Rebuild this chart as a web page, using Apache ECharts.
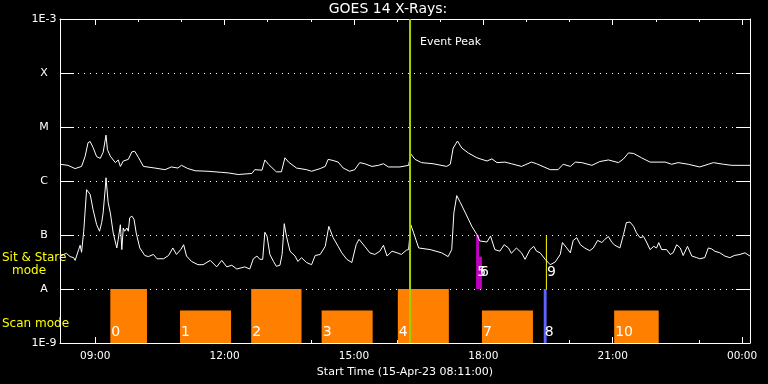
<!DOCTYPE html>
<html><head><meta charset="utf-8">
<script src="https://cdn.jsdelivr.net/npm/echarts@6/dist/echarts.min.js"></script>
<style>html,body{margin:0;padding:0;background:#000}#c{width:768px;height:384px}</style>
</head><body><div id="c"></div>
<script>
// ---- time axis (minutes since 00:00 of 15-Apr-23) ----
const startMinute = 491;   // 08:11
const endMinute = 1451;    // 00:11 next day
const majorTickMinutes = [540, 720, 900, 1080, 1260, 1440];
const majorTickLabels = ['09:00', '12:00', '15:00', '18:00', '21:00', '00:00'];
const hourTickMinutes = [540, 600, 660, 720, 780, 840, 900, 960, 1020, 1080, 1140, 1200, 1260, 1320, 1380, 1440];

// ---- flux axis (log10 of W/m^2) ----
const levelValues = [-9, -8, -7, -6, -5, -4, -3];
const levelLabels = ['1E-9', 'A', 'B', 'C', 'M', 'X', '1E-3'];

// ---- GOES 14 long channel (1-8 A), [minute, log10 flux] ----
const goesLong = [
 [491,-5.69],[502,-5.71],[512,-5.77],[521,-5.73],[526,-5.54],[530,-5.29],[533,-5.27],[537,-5.38],
 [542,-5.55],[547,-5.58],[551,-5.47],[555,-5.15],[557,-5.42],[561,-5.54],[568,-5.66],[572,-5.61],
 [575,-5.73],[579,-5.63],[586,-5.60],[591,-5.46],[595,-5.45],[600,-5.56],[607,-5.73],[623,-5.76],
 [637,-5.79],[646,-5.74],[655,-5.76],[660,-5.71],[669,-5.77],[679,-5.81],[697,-5.82],[716,-5.84],
 [725,-5.85],[739,-5.88],[758,-5.86],[762,-5.79],[772,-5.80],[776,-5.61],[781,-5.69],[792,-5.83],
 [799,-5.83],[804,-5.57],[809,-5.65],[820,-5.76],[834,-5.79],[841,-5.82],[853,-5.77],[860,-5.73],
 [864,-5.60],[871,-5.62],[878,-5.65],[885,-5.76],[894,-5.82],[901,-5.79],[908,-5.66],[915,-5.68],
 [925,-5.73],[934,-5.71],[941,-5.68],[948,-5.74],[964,-5.74],[976,-5.71],[979,-5.50],[985,-5.60],
 [994,-5.66],[1010,-5.68],[1029,-5.73],[1034,-5.69],[1038,-5.39],[1044,-5.26],[1050,-5.39],[1059,-5.48],
 [1071,-5.57],[1085,-5.63],[1092,-5.59],[1099,-5.66],[1110,-5.65],[1119,-5.68],[1133,-5.73],[1147,-5.65],
 [1154,-5.68],[1173,-5.79],[1184,-5.79],[1191,-5.69],[1201,-5.73],[1208,-5.65],[1217,-5.66],[1231,-5.71],
 [1242,-5.64],[1254,-5.61],[1268,-5.66],[1275,-5.59],[1282,-5.48],[1289,-5.49],[1300,-5.57],[1312,-5.65],
 [1333,-5.65],[1342,-5.69],[1351,-5.66],[1365,-5.69],[1381,-5.74],[1393,-5.69],[1400,-5.66],[1414,-5.69],
 [1426,-5.71],[1451,-5.71]
];

// ---- GOES 14 short channel (0.5-4 A), [minute, log10 flux] ----
const goesShort = [
 [491,-7.40],[496,-7.36],[500,-7.34],[505,-7.40],[510,-7.42],[512,-7.47],[517,-7.27],[519,-7.19],
 [521,-7.32],[524,-6.93],[528,-6.16],[533,-6.25],[537,-6.53],[542,-6.81],[546,-6.93],[549,-6.77],
 [551,-6.59],[554,-6.13],[555,-5.94],[558,-6.40],[561,-6.59],[565,-6.96],[570,-7.24],[572,-7.08],
 [575,-6.81],[577,-7.27],[579,-6.87],[581,-6.93],[584,-6.87],[586,-6.93],[588,-6.68],[591,-6.65],
 [594,-6.71],[597,-6.96],[602,-7.24],[609,-7.38],[614,-7.40],[621,-7.36],[626,-7.44],[635,-7.44],
 [642,-7.38],[648,-7.24],[653,-7.36],[659,-7.27],[663,-7.18],[667,-7.39],[674,-7.49],[683,-7.55],
 [690,-7.55],[700,-7.47],[709,-7.59],[716,-7.47],[723,-7.59],[730,-7.56],[737,-7.63],[748,-7.59],
 [755,-7.63],[760,-7.44],[765,-7.39],[769,-7.45],[773,-7.45],[776,-6.95],[779,-7.02],[783,-7.36],
 [788,-7.49],[792,-7.58],[797,-7.56],[800,-7.36],[803,-6.79],[806,-7.02],[811,-7.30],[818,-7.39],
 [822,-7.49],[827,-7.42],[834,-7.51],[841,-7.55],[846,-7.38],[853,-7.36],[860,-7.21],[865,-6.84],
 [871,-7.05],[878,-7.21],[883,-7.33],[890,-7.45],[897,-7.51],[903,-7.18],[907,-7.08],[915,-7.21],
 [922,-7.33],[929,-7.36],[936,-7.30],[941,-7.19],[946,-7.39],[953,-7.30],[960,-7.33],[966,-7.36],
 [973,-7.28],[976,-7.27],[979,-6.81],[983,-6.96],[990,-7.24],[1006,-7.27],[1022,-7.33],[1031,-7.40],
 [1036,-7.27],[1039,-6.59],[1043,-6.27],[1048,-6.40],[1055,-6.59],[1064,-6.84],[1071,-6.99],[1075,-7.11],
 [1085,-7.13],[1090,-7.02],[1096,-7.27],[1103,-7.30],[1109,-7.18],[1115,-7.24],[1119,-7.34],[1126,-7.24],
 [1133,-7.33],[1138,-7.45],[1145,-7.27],[1150,-7.21],[1154,-7.30],[1159,-7.33],[1166,-7.45],[1173,-7.55],
 [1180,-7.50],[1187,-7.36],[1190,-7.14],[1196,-7.24],[1201,-7.33],[1205,-7.10],[1210,-7.05],[1215,-7.18],
 [1221,-7.24],[1228,-7.29],[1233,-7.24],[1239,-7.10],[1245,-7.14],[1249,-7.08],[1254,-7.03],[1259,-7.14],
 [1263,-7.19],[1270,-7.24],[1275,-6.99],[1279,-6.77],[1284,-6.76],[1289,-6.84],[1293,-6.96],[1298,-7.05],
 [1303,-7.03],[1307,-7.13],[1312,-7.27],[1317,-7.21],[1321,-7.24],[1324,-7.14],[1328,-7.27],[1335,-7.27],
 [1340,-7.36],[1344,-7.33],[1349,-7.18],[1354,-7.24],[1358,-7.38],[1364,-7.21],[1370,-7.39],[1377,-7.42],
 [1381,-7.44],[1388,-7.42],[1393,-7.24],[1398,-7.26],[1402,-7.30],[1409,-7.33],[1416,-7.39],[1423,-7.42],
 [1429,-7.38],[1437,-7.36],[1444,-7.33],[1451,-7.39]
];

// ---- event peak ----
const eventPeakMinute = 978;
const eventPeakLabel = 'Event Peak';

// ---- scan mode observations ----
const scanLabels = ['0', '1', '2', '3', '4', '7', '8', '10'];
const scanStart  = [561, 658, 757, 855, 961, 1078, 1164, 1262];
const scanEnd    = [612, 729, 827, 926, 1032, 1149, 1168, 1324];
const scanLevel  = [1, 0.6, 1, 0.6, 1, 0.6, 1, 0.6];

// ---- sit & stare observations ----
const stareLabels = ['5', '6', '9'];
const stareStart  = [1070, 1074, 1167];
const stareEnd    = [1074, 1078, 1168];
const stareLevel  = [1, 0.6, 1];

// ---- styles ----
const FONT = 'DejaVu Sans';
const WHITE = '#ffffff';
const ORANGE = '#ff8000';
const MAGENTA = '#c400c4';
const obsColorOverride = { '8': '#6262ff', '9': '#ffff00' };
const EVENT_COLOR = '#a2d000';
const SCAN_BASE = -9, STARE_BASE = -8;

const chart = echarts.init(document.getElementById('c'), null, { renderer: 'canvas' });

function fmtTick(v) { const i = majorTickMinutes.indexOf(v); return i >= 0 ? majorTickLabels[i] : ''; }
function fmtLevel(v) { const i = levelValues.indexOf(v); return i >= 0 ? levelLabels[i] : ''; }

function xAx(pos, showLine, tickLen, ticks, withLabels) {
  const a = {
    type: 'value', min: startMinute, max: endMinute, position: pos, gridIndex: 0,
    axisLine: { show: showLine, onZero: false, lineStyle: { color: WHITE, width: 1 } },
    axisTick: { show: true, inside: true, length: tickLen, customValues: ticks, lineStyle: { color: WHITE, width: 1 } },
    axisLabel: { show: false },
    splitLine: { show: false }
  };
  if (withLabels) {
    a.axisLabel = { show: true, customValues: majorTickMinutes, formatter: fmtTick, color: WHITE,
      fontFamily: FONT, fontSize: 10.5, margin: 8 };
    a.name = 'Start Time (15-Apr-23 08:11:00)';
    a.nameLocation = 'middle';
    a.nameGap = 20;
    a.nameTextStyle = { color: WHITE, fontFamily: FONT, fontSize: 11 };
  }
  return a;
}

function bandRenderer(starts, ends, levels, labels, base, defColor, labelLift) {
  return function (params, api) {
    const i = params.dataIndex;
    const p0 = api.coord([starts[i], base]);
    const p1 = api.coord([ends[i], base + levels[i]]);
    const w = Math.max(1, p1[0] - p0[0]);
    const color = obsColorOverride[labels[i]] || defColor;
    return {
      type: 'group',
      children: [
        { type: 'rect', shape: { x: p0[0], y: p1[1], width: w, height: p0[1] - p1[1] }, style: { fill: color } },
        { type: 'text', x: p0[0] + 1, y: p0[1] - labelLift, z2: 10,
          style: { text: labels[i], fill: WHITE, fontFamily: FONT, fontSize: 14, align: 'left', verticalAlign: 'middle' } }
      ]
    };
  };
}

const option = {
  backgroundColor: '#000000',
  animation: false,
  grid: { left: 60, right: 18, top: 19, bottom: 41, containLabel: false },
  xAxis: [
    xAx('bottom', true, 6, majorTickMinutes, true),
    xAx('bottom', false, 3, hourTickMinutes, false),
    xAx('top', true, 6, majorTickMinutes, false),
    xAx('top', false, 3, hourTickMinutes, false)
  ],
  yAxis: [
    { type: 'value', min: -9, max: -3, interval: 1, position: 'left',
      axisLine: { show: true, onZero: false, lineStyle: { color: WHITE, width: 1 } },
      axisTick: { show: true, inside: true, length: 14, lineStyle: { color: WHITE, width: 1 } },
      axisLabel: { color: WHITE, fontFamily: FONT, fontSize: 11, align: 'center', margin: 16, formatter: fmtLevel },
      splitLine: { show: true, lineStyle: { color: WHITE, width: 1, type: [1, 5] } } },
    { type: 'value', min: -9, max: -3, interval: 1, position: 'right',
      axisLine: { show: true, onZero: false, lineStyle: { color: WHITE, width: 1 } },
      axisTick: { show: true, inside: true, length: 14, lineStyle: { color: WHITE, width: 1 } },
      axisLabel: { show: false }, splitLine: { show: false } }
  ],
  series: [
    { type: 'custom', name: 'scan', xAxisIndex: 0, yAxisIndex: 0, z: 2, clip: false, silent: true,
      data: scanStart.map((s, i) => [s, scanEnd[i]]),
      renderItem: bandRenderer(scanStart, scanEnd, scanLevel, scanLabels, SCAN_BASE, ORANGE, 10.5) },
    { type: 'custom', name: 'stare', xAxisIndex: 0, yAxisIndex: 0, z: 2, clip: false, silent: true,
      data: stareStart.map((s, i) => [s, stareEnd[i]]),
      renderItem: bandRenderer(stareStart, stareEnd, stareLevel, stareLabels, STARE_BASE, MAGENTA, 16.5) },
    { type: 'line', name: 'long', xAxisIndex: 0, yAxisIndex: 0, z: 3, data: goesLong, symbol: 'none',
      showSymbol: false, silent: true, lineStyle: { color: WHITE, width: 1 } },
    { type: 'line', name: 'short', xAxisIndex: 0, yAxisIndex: 0, z: 3, data: goesShort, symbol: 'none',
      showSymbol: false, silent: true, lineStyle: { color: WHITE, width: 1 } },
    { type: 'custom', name: 'event', xAxisIndex: 0, yAxisIndex: 0, z: 5, clip: false, silent: true,
      data: [[eventPeakMinute]],
      renderItem: function (params, api) {
        const b = api.coord([eventPeakMinute, -9]);
        const t = api.coord([eventPeakMinute, -3]);
        return { type: 'group', children: [
          { type: 'line', shape: { x1: b[0], y1: b[1], x2: t[0], y2: t[1] }, style: { stroke: EVENT_COLOR, lineWidth: 2 } },
          { type: 'text', x: t[0] + 10, y: t[1] + 23.5,
            style: { text: eventPeakLabel, fill: WHITE, fontFamily: FONT, fontSize: 11, align: 'left', verticalAlign: 'middle' } }
        ]};
      } }
  ],
  graphic: [
    { type: 'text', x: 388, y: 9, style: { text: 'GOES 14 X-Rays:', fill: WHITE, fontFamily: FONT, fontSize: 14, align: 'center', verticalAlign: 'middle' } },
    { type: 'text', x: 2, y: 258, style: { text: 'Sit & Stare', fill: '#ffff00', fontFamily: FONT, fontSize: 12, align: 'left', verticalAlign: 'middle' } },
    { type: 'text', x: 12, y: 271, style: { text: 'mode', fill: '#ffff00', fontFamily: FONT, fontSize: 12, align: 'left', verticalAlign: 'middle' } },
    { type: 'text', x: 2, y: 323.5, style: { text: 'Scan mode', fill: '#ffff00', fontFamily: FONT, fontSize: 12, align: 'left', verticalAlign: 'middle' } }
  ]
};
chart.setOption(option);
</script>
</body></html>
